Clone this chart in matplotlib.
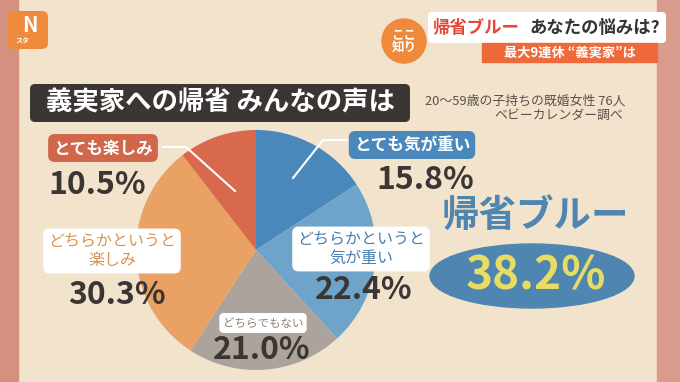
import matplotlib.pyplot as plt
from matplotlib.patches import FancyBboxPatch, Ellipse, Circle, Rectangle

plt.rcParams['font.family'] = ['Noto Sans CJK JP', 'DejaVu Sans']

# data
labels = ['とても気が重い', 'どちらかというと\n気が重い', 'どちらでもない',
          'どちらかというと\n楽しみ', 'とても楽しみ']
values = [15.8, 22.4, 21.0, 30.3, 10.5]
colors = ['#4a87bb', '#6ea4c9', '#aca39d', '#e9a263', '#d8694c']
blue_total = 38.2

title = '義実家への帰省 みんなの声は'
note1 = '20～59歳の子持ちの既婚女性 76人'
note2 = 'ベビーカレンダー調べ'

fig = plt.figure(figsize=(6.8, 3.82), dpi=100)
fig.patch.set_facecolor('#f2e3cd')
ax = fig.add_axes([0, 0, 1, 1])

# pie first (it resets the limits)
ax.pie(values, colors=colors, startangle=-90, counterclock=True,
       center=(256, 250), radius=120, wedgeprops=dict(linewidth=0))
ax.set_xlim(0, 680)
ax.set_ylim(382, 0)
ax.axis('off')

# board frame
ax.add_patch(Rectangle((0, 0), 18, 382, color='#d4917f', zorder=0))
ax.add_patch(Rectangle((657, 0), 23, 382, color='#d99c8c', zorder=0))

# logo
ax.add_patch(FancyBboxPatch((8, 11), 40, 38, boxstyle='round,pad=0,rounding_size=6',
                            fc='#ef8a3c', ec='none', zorder=3))
ax.text(30, 25, 'N', color='white', fontsize=15, fontweight='bold', style='italic',
        ha='center', va='center', zorder=4)
ax.text(22, 41, 'スタ', color='white', fontsize=5, fontweight='bold',
        ha='center', va='center', zorder=4)

# header
ax.add_patch(FancyBboxPatch((428, 12), 238, 31, boxstyle='round,pad=0,rounding_size=4',
                            fc='white', ec='none', zorder=3))
ax.add_patch(Rectangle((482, 43), 175, 19, color='#ef6a3a', zorder=3))
ax.add_patch(Circle((404, 41), 22, color='#ef8a3c', zorder=4))
ax.text(404, 41, 'ここ\n知り', color='white', fontsize=9, fontweight='bold',
        ha='center', va='center', linespacing=0.9, zorder=5)
ax.text(433, 28, '帰省ブルー', color='#e4473a', fontsize=12.5, fontweight='bold',
        ha='left', va='center', zorder=4)
ax.text(529, 28, 'あなたの悩みは?', color='#333333', fontsize=12.5, fontweight='bold',
        ha='left', va='center', zorder=4)
ax.text(570, 53, '最大9連休 “義実家”は', color='white', fontsize=9.5, fontweight='bold',
        ha='center', va='center', zorder=4)

# title
ax.add_patch(FancyBboxPatch((30, 84), 380, 38, boxstyle='round,pad=0,rounding_size=5',
                            fc='#3b3633', ec='none', zorder=3))
ax.text(220, 103, title, color='white', fontsize=19, fontweight='bold',
        ha='center', va='center', zorder=4)
ax.text(425, 101, note1, color='#5b514a', fontsize=9.3, ha='left', va='center')
ax.text(623, 116, note2, color='#5b514a', fontsize=9.3, ha='right', va='center')

# leader lines
ax.plot([163, 186, 235], [147, 147, 191], color='white', lw=1.5, zorder=3)
ax.plot([347, 323, 293], [140, 140, 178], color='white', lw=1.5, zorder=3)

# category labels: (x, y of label, x, y of percent, text colour, box colour, label size)
layout = [
    (412, 145, 425, 180, 'white', '#4a87bb', 12),
    (361, 249, 364, 290, '#4a7fae', 'white', 11.5),
    (263, 323, 262, 350, '#8a807a', 'white', 8.3),
    (112, 251, 117, 295, '#d8944f', 'white', 11.5),
    (103, 148, 97, 185, 'white', '#d0664a', 12),
]
for lab, v, (lx, ly, px, py, tc, bc, fs) in zip(labels, values, layout):
    ax.text(lx, ly, lab, color=tc, fontsize=fs, fontweight='bold' if bc != 'white' else 'normal',
            ha='center', va='center', linespacing=1.1, zorder=5,
            bbox=dict(boxstyle='round,pad=0.3,rounding_size=0.4', fc=bc, ec='none'))
    ax.text(px, py, f'{v:.1f}%', color='#3b3633', fontsize=23, fontweight='bold',
            ha='center', va='center', zorder=5)

# 帰省ブルー total
ax.text(535, 215, '帰省ブルー', color='#4f86b1', fontsize=27, fontweight='bold',
        ha='center', va='center')
ax.add_patch(Ellipse((532, 276), 204, 64, color='#4f86b1', zorder=3))
ax.text(536, 277, f'{blue_total:.1f}%', color='#e9dc62', fontsize=33, fontweight='bold',
        ha='center', va='center', zorder=4)

fig.savefig('out.png', dpi=100, facecolor=fig.get_facecolor())
